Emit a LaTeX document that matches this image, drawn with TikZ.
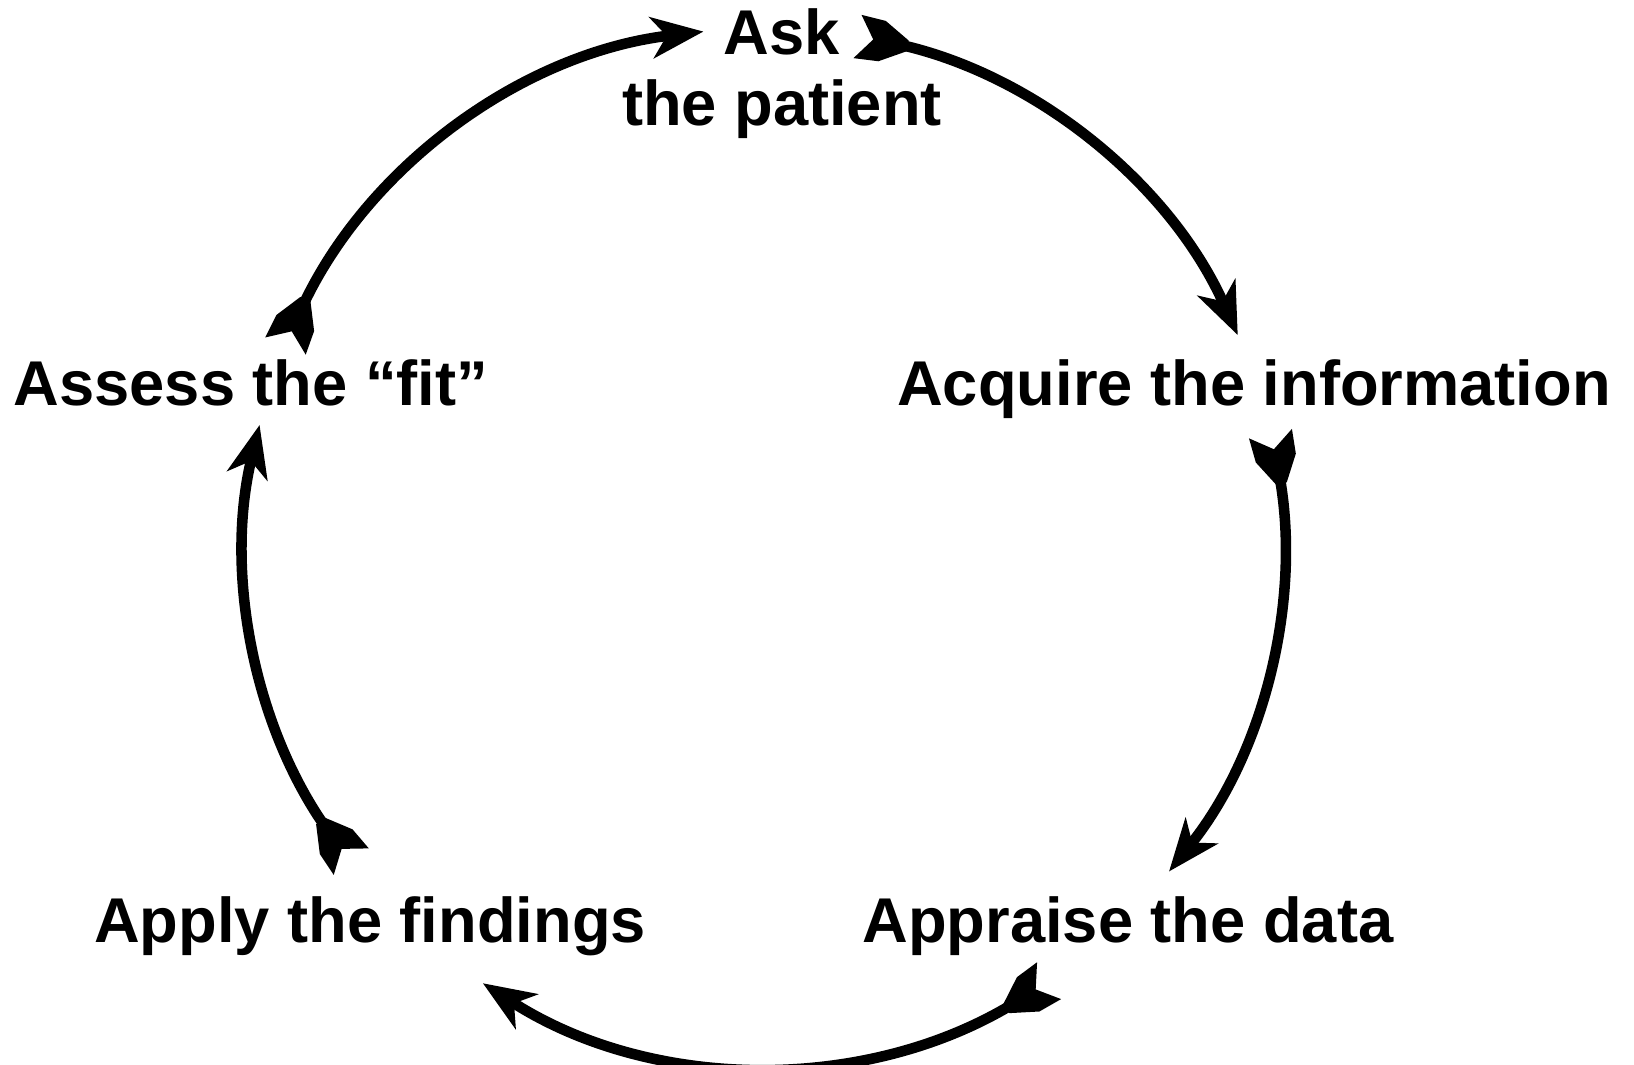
\documentclass[tikz,border=0pt]{standalone}
\usepackage{fontspec}
\setmainfont{Liberation Sans}
\usetikzlibrary{arrows.meta}

% feather at the tail of each arc
\pgfdeclarearrow{
  name=Fletch,
  setup code={
    \pgfarrowssettipend{0pt}
    \pgfarrowssetlineend{-2.8mm}
    \pgfarrowssetbackend{-4.9mm}
    \pgfarrowsupperhullpoint{0pt}{2.2mm}
    \pgfarrowshullpoint{-4.9mm}{0pt}
  },
  drawing code={
    \pgfpathmoveto{\pgfpoint{0.2mm}{2.2mm}}
    \pgfpathlineto{\pgfpoint{-1.4mm}{0mm}}
    \pgfpathlineto{\pgfpoint{0.2mm}{-2.2mm}}
    \pgfpathlineto{\pgfpoint{-2.3mm}{-2.05mm}}
    \pgfpathlineto{\pgfpoint{-4.9mm}{-0.55mm}}
    \pgfpathlineto{\pgfpoint{-4.9mm}{0.55mm}}
    \pgfpathlineto{\pgfpoint{-2.3mm}{2.05mm}}
    \pgfpathclose
    \pgfusepathqfill
  }
}

\begin{document}
\begin{tikzpicture}[inner sep=0pt,outer sep=0pt,
steplabel/.style={font=\fontsize{18}{20}\selectfont\bfseries,align=center},
cycarrow/.style={line width=3pt,{Fletch}-{Stealth[length=5.2mm,width=4.1mm,inset=1.5mm]}}]
\useasboundingbox (0,0) rectangle (16.34,10.64);
\coordinate (ctr) at (7.64,5.17);
\node[steplabel,anchor=north] (ask) at (7.82,10.55) {Ask\\the patient};
\node[steplabel,anchor=base] (acquire) at (12.54,6.59) {Acquire the information};
\node[steplabel,anchor=base] (appraise) at (11.28,1.22) {Appraise the data};
\node[steplabel,anchor=base] (apply) at (3.70,1.22) {Apply the findings};
\node[steplabel,anchor=base] (assess) at (2.51,6.59) {Assess the “fit”};
% start points of the arcs
\path (ctr) ++(157:5.19) coordinate (assessout);
\path (ctr) ++(79.4:5.19) coordinate (askout);
\path (ctr) ++(12.4:5.19) coordinate (acquireout);
\path (ctr) ++(-56.9:5.19) coordinate (appraiseout);
\path (ctr) ++(217.1:5.19) coordinate (applyout);
\draw[cycarrow] (assessout) arc[start angle=157,end angle=96.7,radius=5.19];
\draw[cycarrow] (askout) arc[start angle=79.4,end angle=24.1,radius=5.19];
\draw[cycarrow] (acquireout) arc[start angle=12.4,end angle=-38.7,radius=5.19];
\draw[cycarrow] (appraiseout) arc[start angle=-56.9,end angle=-122.8,radius=5.19];
\draw[cycarrow] (applyout) arc[start angle=217.1,end angle=166.4,radius=5.19];
\end{tikzpicture}
\end{document}
